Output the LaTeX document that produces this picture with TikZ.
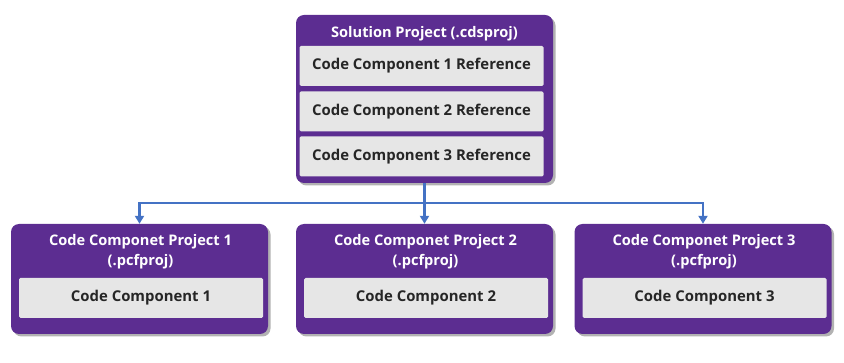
\documentclass[tikz,border=0pt]{standalone}
\usepackage{fontspec}
\setmainfont{Open Sans}
\usepackage{tikz}
\usetikzlibrary{arrows.meta,positioning,shadows}
\definecolor{vpurple}{HTML}{5C2D91}
\definecolor{vgray}{HTML}{E6E6E6}
\definecolor{vblue}{HTML}{4472C4}
\tikzset{
  proj/.style={fill=vpurple,rounded corners=8pt,minimum width=257pt,inner sep=0pt,
    drop shadow={shadow xshift=2.5pt,shadow yshift=-2.5pt,opacity=0.3,fill=black}},
  ttl/.style={text=white,font=\fontsize{14.6}{20}\selectfont\bfseries,align=center,inner sep=0pt},
  comp/.style={fill=vgray,rounded corners=1.5pt,minimum width=244pt,minimum height=40pt,inner sep=0pt,
    font=\fontsize{14.9}{20}\selectfont\bfseries,text=black!85},
  arr/.style={-{Triangle[length=8pt,width=9pt]},line width=2.4pt,draw=vblue},
}
\begin{document}
\begin{tikzpicture}[x=1pt,y=-1pt]
  \useasboundingbox (0,0) rectangle (844,363);
  % solution project
  \node[proj,minimum height=168pt] (sol) at (424.5,99) {};
  \node[ttl] (solt) at (424.5,34) {Solution Project (.cdsproj)};
  \node[comp] (r1) at (421.5,66) {Code Component 1 Reference};
  \node[comp] (r2) at (421.5,111.5) {Code Component 2 Reference};
  \node[comp] (r3) at (421.5,156.5) {Code Component 3 Reference};
  % component projects
  \foreach \i/\x in {1/139.5,2/424.5,3/703} {
    \node[proj,minimum height=110pt] (p\i) at (\x,279) {};
    \node[ttl] (p\i t) at (\x+1,252) {Code Componet Project \i\\(.pcfproj)};
    \node[comp] (c\i) at (\x+1.5,298) {Code Component \i};
  }
  % connectors
  \coordinate (bus) at (423,203);
  \foreach \p in {p1,p2,p3} { \draw[arr] (sol.south) |- (bus -| \p.north) -- (\p.north); }
\end{tikzpicture}
\end{document}
